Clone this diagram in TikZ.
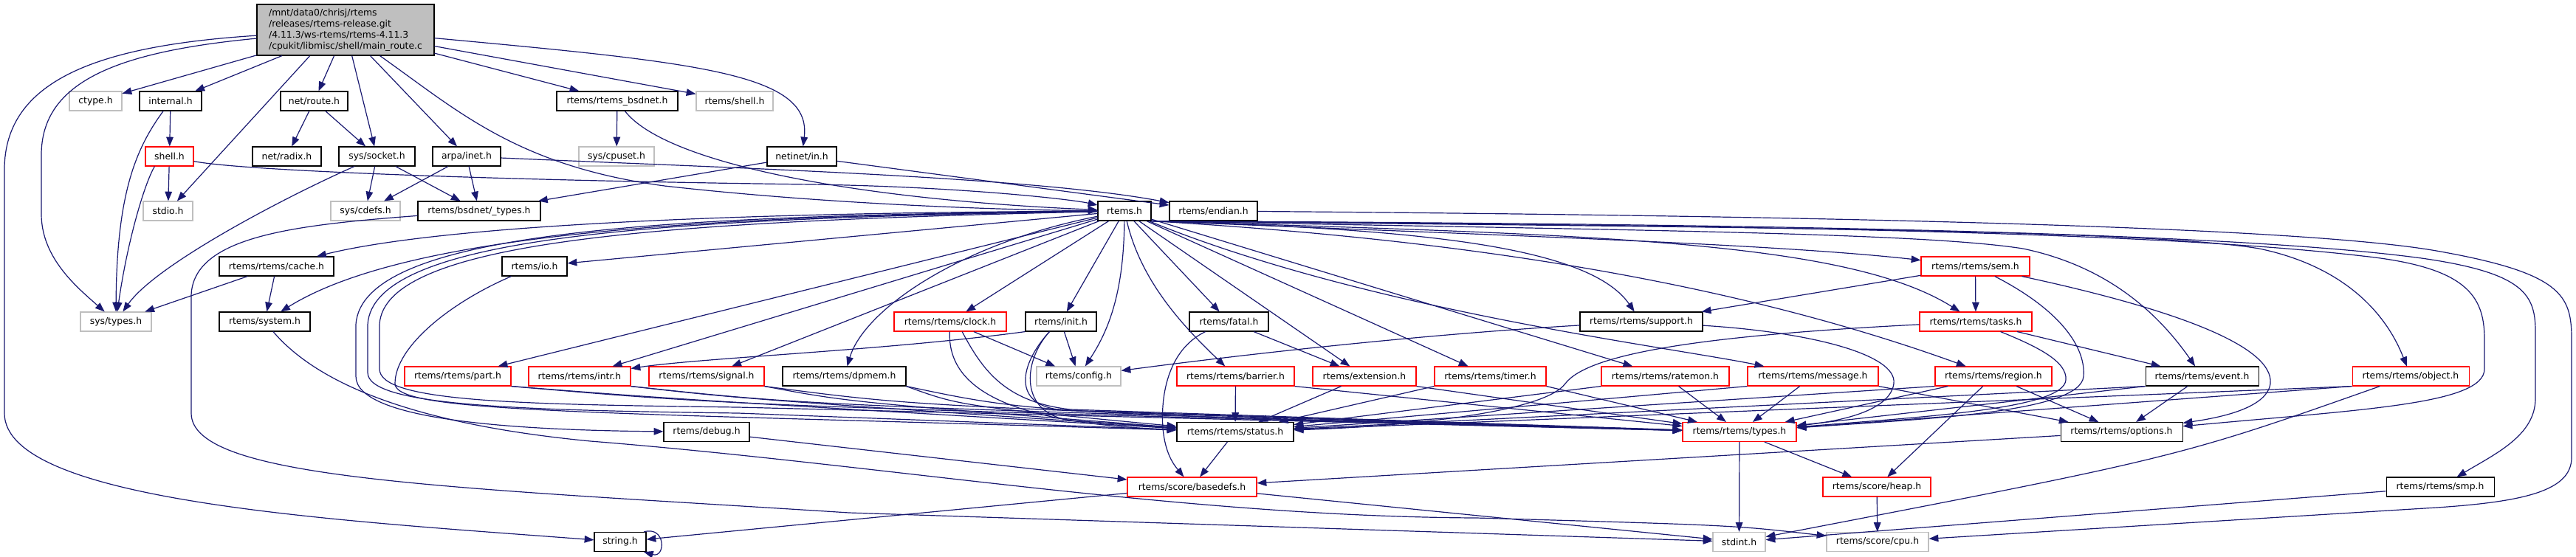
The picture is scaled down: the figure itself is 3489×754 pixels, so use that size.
\documentclass[tikz,border=0pt]{standalone}
\usepackage{fontspec}
\setmainfont{DejaVu Sans}
\usetikzlibrary{arrows.meta}
\definecolor{edgeblue}{HTML}{191970}
\definecolor{undocgrey}{HTML}{BFBFBF}
\def\hfont{\fontsize{3.1}{3.75}\selectfont}

\begin{document}
\begin{tikzpicture}[x=0.25pt,y=-0.25pt,
	hdr/.style={draw=black,fill=white,line width=0.27pt,minimum height=6.5pt,inner sep=0pt,font=\hfont},
	trunc/.style={hdr,draw=red},
	undoc/.style={hdr,draw=undocgrey},
	dep/.style={draw=edgeblue,line width=0.3pt,-{Triangle[length=3.2pt,width=2.4pt]}}]
		%%%%% START %%%%%
		\useasboundingbox (0,0) rectangle (3489,754);
		
		\node[hdr,fill=undocgrey,minimum width=60pt,minimum height=17.25pt,align=left] (main) at (468,40.5) {/mnt/data0/chrisj/rtems\\/releases/rtems-release.git\\/4.11.3/ws-rtems/rtems-4.11.3\\/cpukit/libmisc/shell/main\_route.c};
		
		\node[undoc,minimum width=17.75pt] (ctype) at (129.5,137) {ctype.h};
		\node[hdr,minimum width=21pt] (internal) at (231,137) {internal.h};
		\node[hdr,minimum width=22.75pt] (route) at (425.5,137) {net/route.h};
		\node[hdr,minimum width=41pt] (bsdnet) at (836,137) {rtems/rtems\_bsdnet.h};
		\node[undoc,minimum width=26pt] (rshell) at (995,137) {rtems/shell.h};
		
		\node[trunc,minimum width=16.25pt] (shell) at (229.5,212) {shell.h};
		\node[hdr,minimum width=23.25pt] (radix) at (388.5,212) {net/radix.h};
		\node[hdr,minimum width=25.75pt] (socket) at (510.5,212) {sys/socket.h};
		\node[hdr,minimum width=23pt] (inet) at (632,212) {arpa/inet.h};
		\node[undoc,minimum width=25.5pt] (cpuset) at (835,212) {sys/cpuset.h};
		\node[hdr,minimum width=23.5pt] (netin) at (1086,212) {netinet/in.h};
		
		\node[undoc,minimum width=16.75pt] (stdio) at (227.5,286) {stdio.h};
		\node[undoc,minimum width=23.5pt] (cdefs) at (495,286) {sys/cdefs.h};
		\node[hdr,minimum width=41.5pt] (btypes) at (649,286) {rtems/bsdnet/\_types.h};
		\node[hdr,minimum width=18pt] (rtemsh) at (1523,286) {rtems.h};
		\node[hdr,minimum width=29.75pt] (endian) at (1643.5,286) {rtems/endian.h};
		
		\node[hdr,minimum width=38.75pt] (cache) at (374.5,361) {rtems/rtems/cache.h};
		\node[hdr,minimum width=22pt] (io) at (724,361) {rtems/io.h};
		\node[trunc,minimum width=36.75pt] (sem) at (2675.5,361) {rtems/rtems/sem.h};
		
		\node[undoc,minimum width=24pt] (systypes) at (157,436) {sys/types.h};
		\node[hdr,minimum width=30.75pt] (system) at (358.5,436) {rtems/system.h};
		\node[trunc,minimum width=38pt] (clock) at (1287,436) {rtems/rtems/clock.h};
		\node[hdr,minimum width=24pt] (init) at (1437,436) {rtems/init.h};
		\node[hdr,minimum width=26.75pt] (fatal) at (1664.5,436) {rtems/fatal.h};
		\node[hdr,minimum width=41.5pt] (support) at (2223,436) {rtems/rtems/support.h};
		\node[trunc,minimum width=38pt] (tasks) at (2676,436) {rtems/rtems/tasks.h};
		
		\node[trunc,minimum width=36pt] (part) at (620,510) {rtems/rtems/part.h};
		\node[trunc,minimum width=34.5pt] (intr) at (785,510) {rtems/rtems/intr.h};
		\node[trunc,minimum width=39pt] (signal) at (957,510) {rtems/rtems/signal.h};
		\node[hdr,minimum width=41.75pt] (dpmem) at (1143.5,510) {rtems/rtems/dpmem.h};
		\node[undoc,minimum width=28.5pt] (config) at (1461,510) {rtems/config.h};
		\node[trunc,minimum width=39.75pt] (barrier) at (1673.5,510) {rtems/rtems/barrier.h};
		\node[trunc,minimum width=35pt] (extension) at (1848,510) {rtems/extension.h};
		\node[trunc,minimum width=37.75pt] (timer) at (2018.5,510) {rtems/rtems/timer.h};
		\node[trunc,minimum width=43.25pt] (ratemon) at (2255.5,510) {rtems/rtems/ratemon.h};
		\node[trunc,minimum width=44.25pt] (message) at (2455.5,510) {rtems/rtems/message.h};
		\node[trunc,minimum width=39.5pt] (region) at (2700,510) {rtems/rtems/region.h};
		\node[hdr,minimum width=38.25pt] (event) at (2982.5,510) {rtems/rtems/event.h};
		\node[trunc,minimum width=39.5pt] (object) at (3265,510) {rtems/rtems/object.h};
		
		\node[hdr,minimum width=29pt] (debug) at (957,585.5) {rtems/debug.h};
		\node[hdr,minimum width=39.5pt] (status) at (1673,585.5) {rtems/rtems/status.h};
		\node[trunc,minimum width=38.5pt] (types) at (2356,585.5) {rtems/rtems/types.h};
		\node[hdr,minimum width=41.25pt] (options) at (2873.5,585.5) {rtems/rtems/options.h};
		
		\node[trunc,minimum width=43.75pt] (basedefs) at (1614.5,660) {rtems/score/basedefs.h};
		\node[trunc,minimum width=36.5pt] (heap) at (2542,660) {rtems/score/heap.h};
		\node[hdr,minimum width=36.5pt] (smp) at (3305,660) {rtems/rtems/smp.h};
		
		\node[hdr,minimum width=17.5pt] (string) at (840,734.5) {string.h};
		\node[undoc,minimum width=17.75pt] (stdint) at (2355.5,734.5) {stdint.h};
		\node[undoc,minimum width=34.5pt] (cpu) at (2543,734.5) {rtems/score/cpu.h};
		
		% main_route.c
		\draw[dep] (main) .. controls (130,62) and (6,110) .. (6,230) -- (6,560) .. controls (6,680) and (450,705) .. (string);
		\draw[dep] (main) .. controls (160,70) and (56,110) .. (56,210) -- (56,290) .. controls (56,350) and (105,390) .. (systypes);
		\draw[dep] (main) -- (ctype);
		\draw[dep] (main) -- (internal);
		\draw[dep] (main.-144) -- (stdio);
		\draw[dep] (main) -- (route);
		\draw[dep] (main) -- (socket);
		\draw[dep] (main) -- (inet);
		\draw[dep] (main.-37.5) .. controls (620,150) and (700,225) .. (900,252) .. controls (1150,280) and (1400,285) .. (rtemsh);
		\draw[dep] (main) -- (bsdnet);
		\draw[dep] (main) -- (rshell);
		\draw[dep] (main) .. controls (950,85) and (1100,100) .. (netin);
		
		% network and shell headers
		\draw[dep] (internal) -- (shell);
		\draw[dep] (internal) .. controls (185,200) and (158,260) .. (systypes);
		\draw[dep] (route) -- (radix);
		\draw[dep] (route) -- (socket);
		\draw[dep] (shell) -- (stdio);
		\draw[dep] (shell.-146) .. controls (195,250) and (172,330) .. (systypes);
		\draw[dep] (shell) .. controls (330,232) and (700,245) .. (1100,250) .. controls (1300,253) and (1450,270) .. (rtemsh);
		\draw[dep] (socket) .. controls (380,270) and (210,360) .. (systypes);
		\draw[dep] (socket) -- (cdefs);
		\draw[dep] (socket) -- (btypes);
		\draw[dep] (inet) -- (cdefs);
		\draw[dep] (inet) -- (btypes);
		\draw[dep] (inet) .. controls (1000,228) and (1400,240) .. (endian);
		\draw[dep] (bsdnet) -- (cpuset);
		\draw[dep] (bsdnet) .. controls (900,220) and (1150,270) .. (rtemsh);
		\draw[dep] (netin) -- (btypes);
		\draw[dep] (netin) -- (endian);
		\draw[dep] (btypes) .. controls (400,305) and (262,320) .. (259,400) -- (259,560) .. controls (259,650) and (600,660) .. (1150,695) -- (stdint);
		\draw[dep] (endian) .. controls (2400,292) and (3100,305) .. (3300,340) .. controls (3470,370) and (3483,400) .. (3483,460) -- (3483,620) .. controls (3483,665) and (3420,680) .. (3300,688) -- (cpu);
		
		% rtems.h
		\draw[dep] (rtemsh) .. controls (1000,288) and (600,305) .. (cache);
		\draw[dep] (rtemsh) .. controls (1000,292) and (560,310) .. (system);
		\draw[dep] (rtemsh) -- (io);
		\draw[dep] (rtemsh) .. controls (900,292) and (490,312) .. (482,440) -- (482,510) .. controls (482,570) and (700,583) .. (debug);
		\draw[dep] (rtemsh) .. controls (900,296) and (505,318) .. (498,440) -- (498,505) .. controls (498,550) and (700,556) .. (1000,560) -- (status);
		\draw[dep] (rtemsh) .. controls (900,300) and (520,325) .. (514,440) -- (514,500) .. controls (514,545) and (700,548) .. (1000,552) -- (types);
		\draw[dep] (rtemsh) -- (part);
		\draw[dep] (rtemsh) -- (intr);
		\draw[dep] (rtemsh) -- (signal);
		\draw[dep] (rtemsh) .. controls (1300,330) and (1170,420) .. (dpmem);
		\draw[dep] (rtemsh) -- (clock);
		\draw[dep] (rtemsh) -- (init);
		\draw[dep] (rtemsh) .. controls (1522,400) and (1500,450) .. (config);
		\draw[dep] (rtemsh) -- (fatal);
		\draw[dep] (rtemsh) .. controls (1545,380) and (1600,440) .. (barrier);
		\draw[dep] (rtemsh) -- (extension);
		\draw[dep] (rtemsh) -- (timer);
		\draw[dep] (rtemsh) -- (ratemon);
		\draw[dep] (rtemsh) .. controls (1850,420) and (2260,470) .. (message);
		\draw[dep] (rtemsh.south east) .. controls (1900,320) and (2300,365) .. (region);
		\draw[dep] (rtemsh.south east) .. controls (1900,310) and (2150,330) .. (support);
		\draw[dep] (rtemsh.south east) .. controls (2000,318) and (2400,330) .. (sem);
		\draw[dep] (rtemsh.south east) .. controls (2150,318) and (2500,325) .. (tasks);
		\draw[dep] (rtemsh.south east) .. controls (2200,312) and (2600,315) .. (2740,337) .. controls (2850,360) and (2920,420) .. (event);
		\draw[dep] (rtemsh.south east) .. controls (2300,308) and (2900,310) .. (3060,337) .. controls (3170,360) and (3230,420) .. (object);
		\draw[dep] (rtemsh.south east) .. controls (2300,305) and (2900,312) .. (3200,347) .. controls (3340,362) and (3365,400) .. (3365,460) -- (3365,500) .. controls (3365,548) and (3200,555) .. (options);
		\draw[dep] (rtemsh.south east) .. controls (2300,303) and (3000,312) .. (3280,350) .. controls (3420,370) and (3434,400) .. (3434,450) -- (3434,540) .. controls (3434,590) and (3380,615) .. (smp);
		
		% classic api headers
		\draw[dep] (cache) -- (systypes);
		\draw[dep] (cache) -- (system);
		\draw[dep] (system) .. controls (430,520) and (560,575) .. (800,598) .. controls (1200,630) and (1600,700) .. (2000,702) .. controls (2350,712) .. (cpu);
		\draw[dep] (io) .. controls (610,410) and (535,470) .. (535,520) .. controls (535,560) and (800,558) .. (status);
		\draw[dep] (part.south east) .. controls (900,540) .. (status);
		\draw[dep] (part.south east) .. controls (1000,550) .. (types);
		\draw[dep] (intr.south east) .. controls (1000,540) .. (status);
		\draw[dep] (intr.south east) .. controls (1100,550) .. (types);
		\draw[dep] (signal.south east) .. controls (1150,545) .. (status);
		\draw[dep] (signal.south east) .. controls (1250,552) .. (types);
		\draw[dep] (dpmem.south east) .. controls (1300,550) .. (status);
		\draw[dep] (dpmem.south east) .. controls (1400,560) .. (types);
		\draw[dep] (clock) -- (config);
		\draw[dep] (clock) .. controls (1282,540) and (1400,575) .. (status);
		\draw[dep] (clock.-40) .. controls (1330,500) and (1360,545) .. (1450,555) -- (types);
		\draw[dep] (init.south west) .. controls (1200,475) and (950,485) .. (intr);
		\draw[dep] (init) -- (config);
		\draw[dep] (init.-139) .. controls (1385,490) and (1380,560) .. (1450,570) -- (status);
		\draw[dep] (init.-139) .. controls (1380,495) and (1370,550) .. (1440,556) -- (types);
		\draw[dep] (fatal.-157) .. controls (1580,475) and (1572,540) .. (1575,580) .. controls (1578,615) and (1590,630) .. (basedefs);
		\draw[dep] (fatal) -- (extension);
		\draw[dep] (support) .. controls (1900,455) and (1650,485) .. (config);
		\draw[dep] (support) .. controls (2450,450) and (2570,480) .. (2565,520) .. controls (2560,555) and (2500,570) .. (types);
		\draw[dep] (sem) -- (support);
		\draw[dep] (sem) -- (tasks);
		\draw[dep] (sem) .. controls (2790,420) and (2825,470) .. (2822,510) .. controls (2818,560) and (2600,568) .. (types);
		\draw[dep] (sem) .. controls (2950,420) and (3080,470) .. (3075,520) .. controls (3070,555) and (3000,567) .. (options);
		\draw[dep] (tasks) .. controls (2300,455) and (2150,480) .. (2120,520) .. controls (2090,560) and (1900,578) .. (status);
		\draw[dep] (tasks) .. controls (2760,470) and (2800,490) .. (2798,515) .. controls (2795,555) and (2600,565) .. (types);
		\draw[dep] (tasks) -- (event);
		
		\draw[dep] (barrier) -- (status);
		\draw[dep] (barrier.south east) -- (types);
		\draw[dep] (extension) -- (status);
		\draw[dep] (extension.south east) -- (types);
		\draw[dep] (timer.south west) -- (status);
		\draw[dep] (timer.south east) -- (types);
		\draw[dep] (ratemon.south west) -- (status);
		\draw[dep] (ratemon) -- (types);
		\draw[dep] (message.south west) -- (status);
		\draw[dep] (message) -- (types);
		\draw[dep] (message.south east) -- (options);
		\draw[dep] (region.south west) -- (status);
		\draw[dep] (region) -- (types);
		\draw[dep] (region) -- (heap);
		\draw[dep] (region) -- (options);
		\draw[dep] (event.south west) -- (status);
		\draw[dep] (event.south west) -- (types);
		\draw[dep] (event) -- (options);
		\draw[dep] (object.south west) -- (status);
		\draw[dep] (object.south west) -- (types);
		\draw[dep] (object.-162) .. controls (2950,620) .. (stdint);
		
		% score headers
		\draw[dep] (debug) -- (basedefs);
		\draw[dep] (status) -- (basedefs);
		\draw[dep] (types) -- (heap);
		\draw[dep] (types) -- (stdint);
		\draw[dep] (options) -- (basedefs);
		\draw[dep] (basedefs) -- (string);
		\draw[dep] (basedefs) -- (stdint);
		\draw[dep] (heap) -- (cpu);
		\draw[dep] (smp) -- (stdint);
		\draw[dep] (string.23) .. controls (902,712) and (902,757) .. (string.-23);
		
		%%%%% END %%%%%
	\end{tikzpicture}
\end{document}
